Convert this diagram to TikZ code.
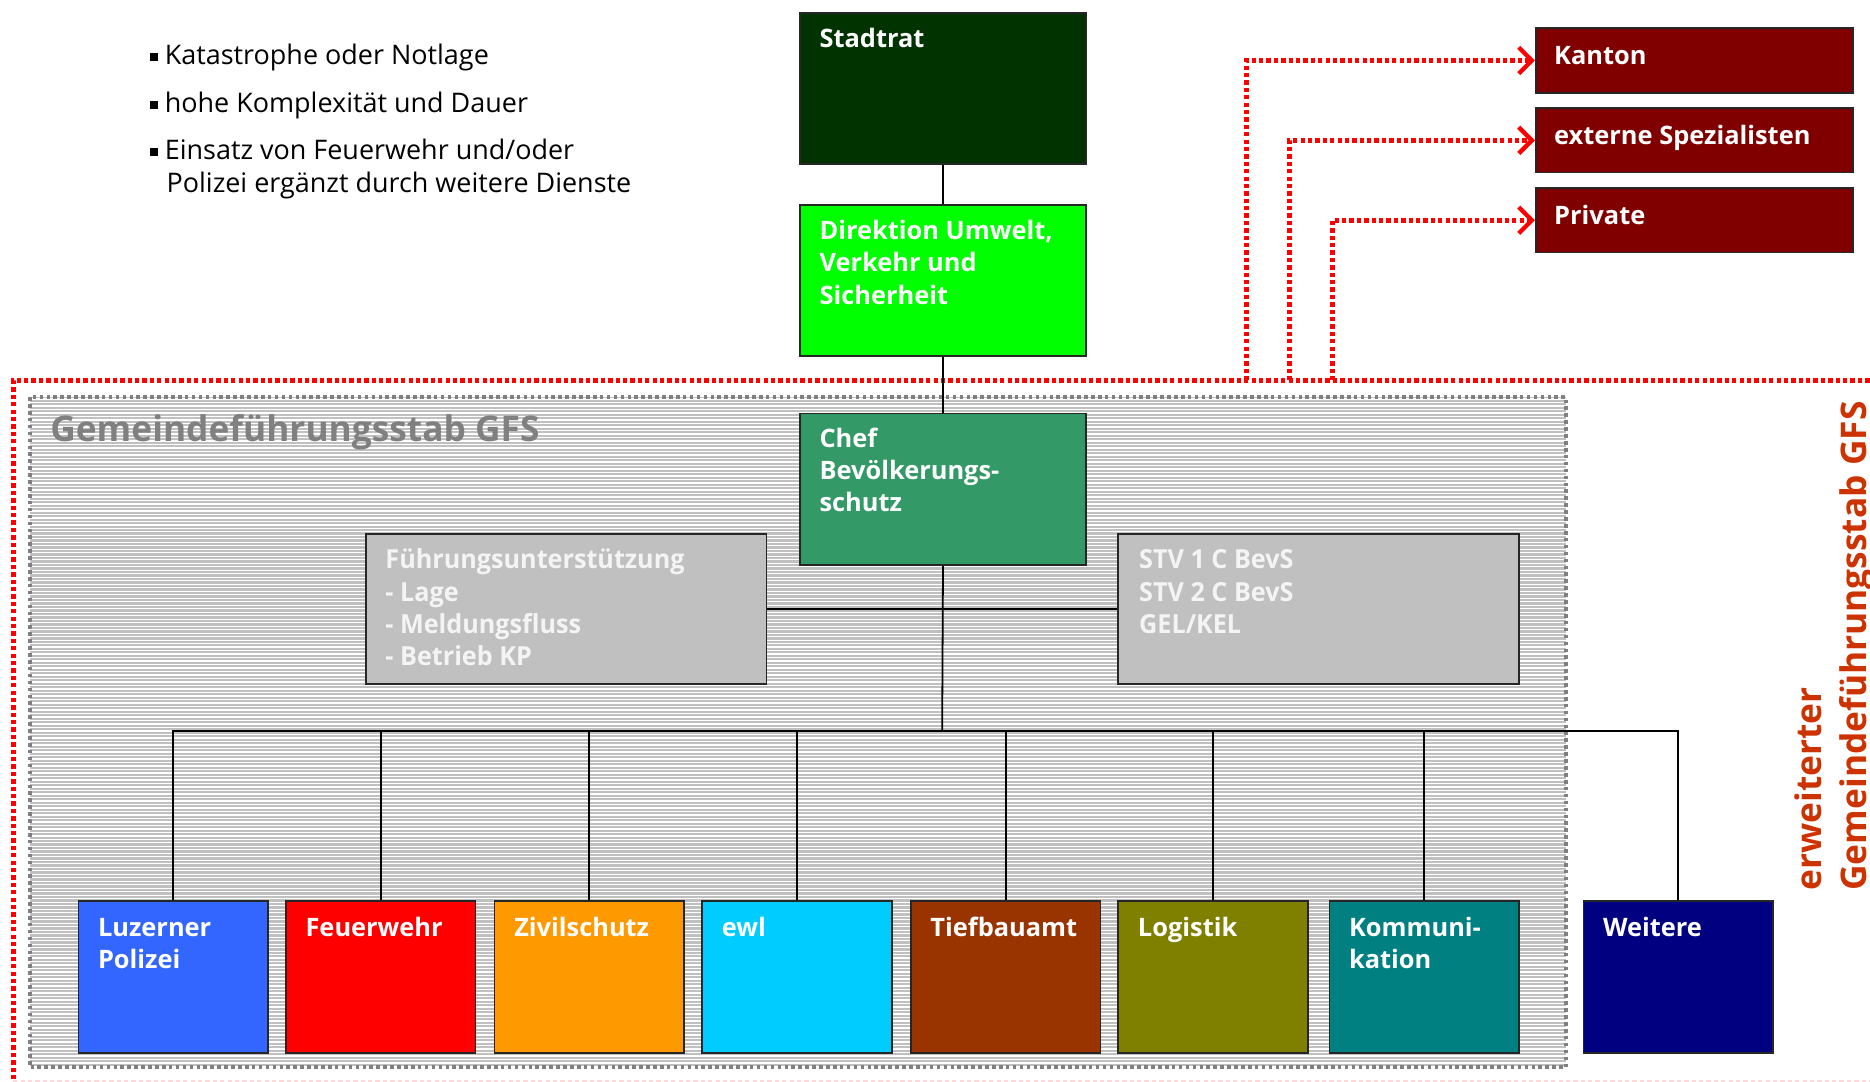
\documentclass[tikz,border=0pt]{standalone}
\usepackage{fontspec}
\setmainfont{Open Sans}
\newfontfamily\condfont[FakeStretch=0.96]{Open Sans}
\usetikzlibrary{arrows.meta}
\definecolor{cStadt}{HTML}{003300}
\definecolor{cDir}{HTML}{00FF00}
\definecolor{cChef}{HTML}{339966}
\definecolor{cGrayBox}{HTML}{C0C0C0}
\definecolor{cGrayTxt}{HTML}{F4F4F4}
\definecolor{cLuz}{HTML}{3366FF}
\definecolor{cFeu}{HTML}{FF0000}
\definecolor{cZiv}{HTML}{FF9900}
\definecolor{cEwl}{HTML}{00CCFF}
\definecolor{cTief}{HTML}{993300}
\definecolor{cLog}{HTML}{808000}
\definecolor{cKom}{HTML}{008080}
\definecolor{cWeit}{HTML}{000080}
\definecolor{cExt}{HTML}{800000}
\definecolor{cTitle}{HTML}{808080}
\definecolor{cRot}{HTML}{CC3300}
\definecolor{cHatch}{HTML}{C0C0C0}
\definecolor{cDotGray}{HTML}{808080}
\definecolor{cRedDot}{HTML}{FF0000}
\newcommand\boxlines[1]{\begin{tabular}[t]{@{}l@{}}#1\end{tabular}}
\newcommand\sqbullet{\llap{\rule[3pt]{6.5pt}{6.5pt}\hspace{6pt}}}
\tikzset{
  orgbox/.style={draw=black!85, line width=1.4pt, anchor=north west, inner sep=0pt},
  bigbox/.style={orgbox, minimum width=240pt, minimum height=127pt},
  graybox/.style={orgbox, fill=cGrayBox, minimum width=336pt, minimum height=126pt},
  botbox/.style={orgbox, minimum width=159pt, minimum height=127pt},
  extbox/.style={orgbox, fill=cExt, minimum width=266pt, minimum height=54pt},
  boxtext/.style={anchor=base west, inner sep=0pt, text=white, font=\fontsize{21.3}{27}\selectfont\bfseries},
  condtext/.style={anchor=base west, inner sep=0pt, text=cGrayTxt, font=\condfont\fontsize{22}{27}\selectfont\bfseries},
  bullettext/.style={anchor=base west, inner sep=0pt, text=black, font=\fontsize{22.6}{27}\selectfont},
  conn/.style={draw=black, line width=1.5pt},
  reddot/.style={draw=cRedDot, line width=4.2pt, dash pattern=on 3.6pt off 2.6pt},
  graydot/.style={draw=cDotGray, line width=3.2pt, dash pattern=on 3pt off 2.8pt},
  redarrow/.style={reddot, -{Straight Barb[length=11pt,width=22pt,line width=3.6pt]}}
}
\begin{document}
\begin{tikzpicture}[x=1pt,y=-1pt]
\useasboundingbox (0,0) rectangle (1568,907);
\fill[white] (0,0) rectangle (1568,907);

% hatched GFS area
\fill[cHatch] (25,333) rectangle (1313,895);
\foreach \i in {0,...,191}{
  \pgfmathsetmacro\yy{334.6+\i*2.93}
  \draw[white, line width=1.1pt] (25,\yy) -- (1313,\yy);
}
\draw[graydot] (25,333) rectangle (1313,895);

% red dotted extended border
\draw[reddot] (1580,319) -- (11,319) -- (11,915);
\draw[cRedDot!15, line width=1.5pt, dash pattern=on 3.6pt off 2.6pt] (11,906.5) -- (1580,906.5);

% title
\node[anchor=base west, inner sep=0pt, text=cTitle, font=\fontsize{29.6}{36}\selectfont\bfseries] (gfstitle) at (42,370) {Gemeindeführungsstab GFS};

% rotated label
\node[rotate=90, anchor=base west, inner sep=0pt, text=cRot, font=\fontsize{29.6}{38}\selectfont\bfseries] (erwlabel) at (1527,747) {\boxlines{erweiterter\\Gemeindeführungsstab GFS}};

% bullets
\node[bullettext] (b1) at (138,54) {\sqbullet Katastrophe oder Notlage};
\node[bullettext] (b2) at (138,94) {\sqbullet hohe Komplexität und Dauer};
\node[bullettext] (b3) at (138,134) {\boxlines{\sqbullet Einsatz von Feuerwehr und/oder\\\hspace{1.5pt}Polizei ergänzt durch weitere Dienste}};

% top chain
\node[bigbox, fill=cStadt] (stadtrat) at (670,10) {};
\node[bigbox, fill=cDir] (direktion) at (670,171) {};
\node[bigbox, fill=cChef] (chef) at (670,346) {};
\node[graybox] (fu) at (306,447) {};
\node[graybox] (stv) at (937,447) {};

% bottom row
\node[botbox, fill=cLuz] (luz) at (65,755) {};
\node[botbox, fill=cFeu] (feu) at (239,755) {};
\node[botbox, fill=cZiv] (ziv) at (414,755) {};
\node[botbox, fill=cEwl] (ewl) at (588,755) {};
\node[botbox, fill=cTief] (tief) at (763,755) {};
\node[botbox, fill=cLog] (logi) at (937,755) {};
\node[botbox, fill=cKom] (kom) at (1114,755) {};
\node[botbox, fill=cWeit] (weit) at (1327,755) {};

% external boxes
\node[extbox] (kanton) at (1287,23) {};
\node[extbox] (spez) at (1287,90) {};
\node[extbox] (privat) at (1287,157) {};

% connectors
\coordinate (bus) at (790,613);
\draw[conn] (stadtrat.south) -- (direktion.north);
\draw[conn] (direktion.south) -- (chef.north);
\draw[conn] (chef.south) -- (bus);
\draw[conn] (fu.east) -- (stv.west);
\draw[conn] (luz.north) |- (bus) -| (weit.north);
\foreach \n in {feu,ziv,ewl,tief,logi,kom}{
  \draw[conn] (\n.north) -- (\n.north |- bus);
}

% red dotted arrows
\coordinate (r1) at (1045,319);
\coordinate (r2) at (1081,319);
\coordinate (r3) at (1117,319);
\draw[redarrow] (r1) |- (kanton.west);
\draw[redarrow] (r2) |- (spez.west);
\draw[redarrow] (r3) |- (privat.west);

% box texts
\node[boxtext] (stadtrat-t) at ([shift={(17,30)}]stadtrat.north west) {Stadtrat};
\node[boxtext] (direktion-t) at ([shift={(17,30)}]direktion.north west) {\boxlines{Direktion Umwelt,\\Verkehr und\\Sicherheit}};
\node[boxtext] (chef-t) at ([shift={(17,29)}]chef.north west) {\boxlines{Chef\\Bevölkerungs-\\schutz}};
\node[condtext] (fu-t) at ([shift={(17,30)}]fu.north west) {\boxlines{Führungsunterstützung\\- Lage\\- Meldungsfluss\\- Betrieb KP}};
\node[condtext] (stv-t) at ([shift={(18,30)}]stv.north west) {\boxlines{STV 1 C BevS\\STV 2 C BevS\\GEL/KEL}};
\node[boxtext] (luz-t) at ([shift={(17,30)}]luz.north west) {\boxlines{Luzerner\\Polizei}};
\node[boxtext] (feu-t) at ([shift={(17,30)}]feu.north west) {Feuerwehr};
\node[boxtext] (ziv-t) at ([shift={(17,30)}]ziv.north west) {Zivilschutz};
\node[boxtext] (ewl-t) at ([shift={(17,30)}]ewl.north west) {ewl};
\node[boxtext] (tief-t) at ([shift={(17,30)}]tief.north west) {Tiefbauamt};
\node[boxtext] (logi-t) at ([shift={(17,30)}]logi.north west) {Logistik};
\node[boxtext] (kom-t) at ([shift={(17,30)}]kom.north west) {\boxlines{Kommuni-\\kation}};
\node[boxtext] (weit-t) at ([shift={(17,30)}]weit.north west) {Weitere};
\node[boxtext] (kanton-t) at ([shift={(16,31)}]kanton.north west) {Kanton};
\node[boxtext] (spez-t) at ([shift={(16,31)}]spez.north west) {externe Spezialisten};
\node[boxtext] (privat-t) at ([shift={(16,31)}]privat.north west) {Private};
\end{tikzpicture}
\end{document}
